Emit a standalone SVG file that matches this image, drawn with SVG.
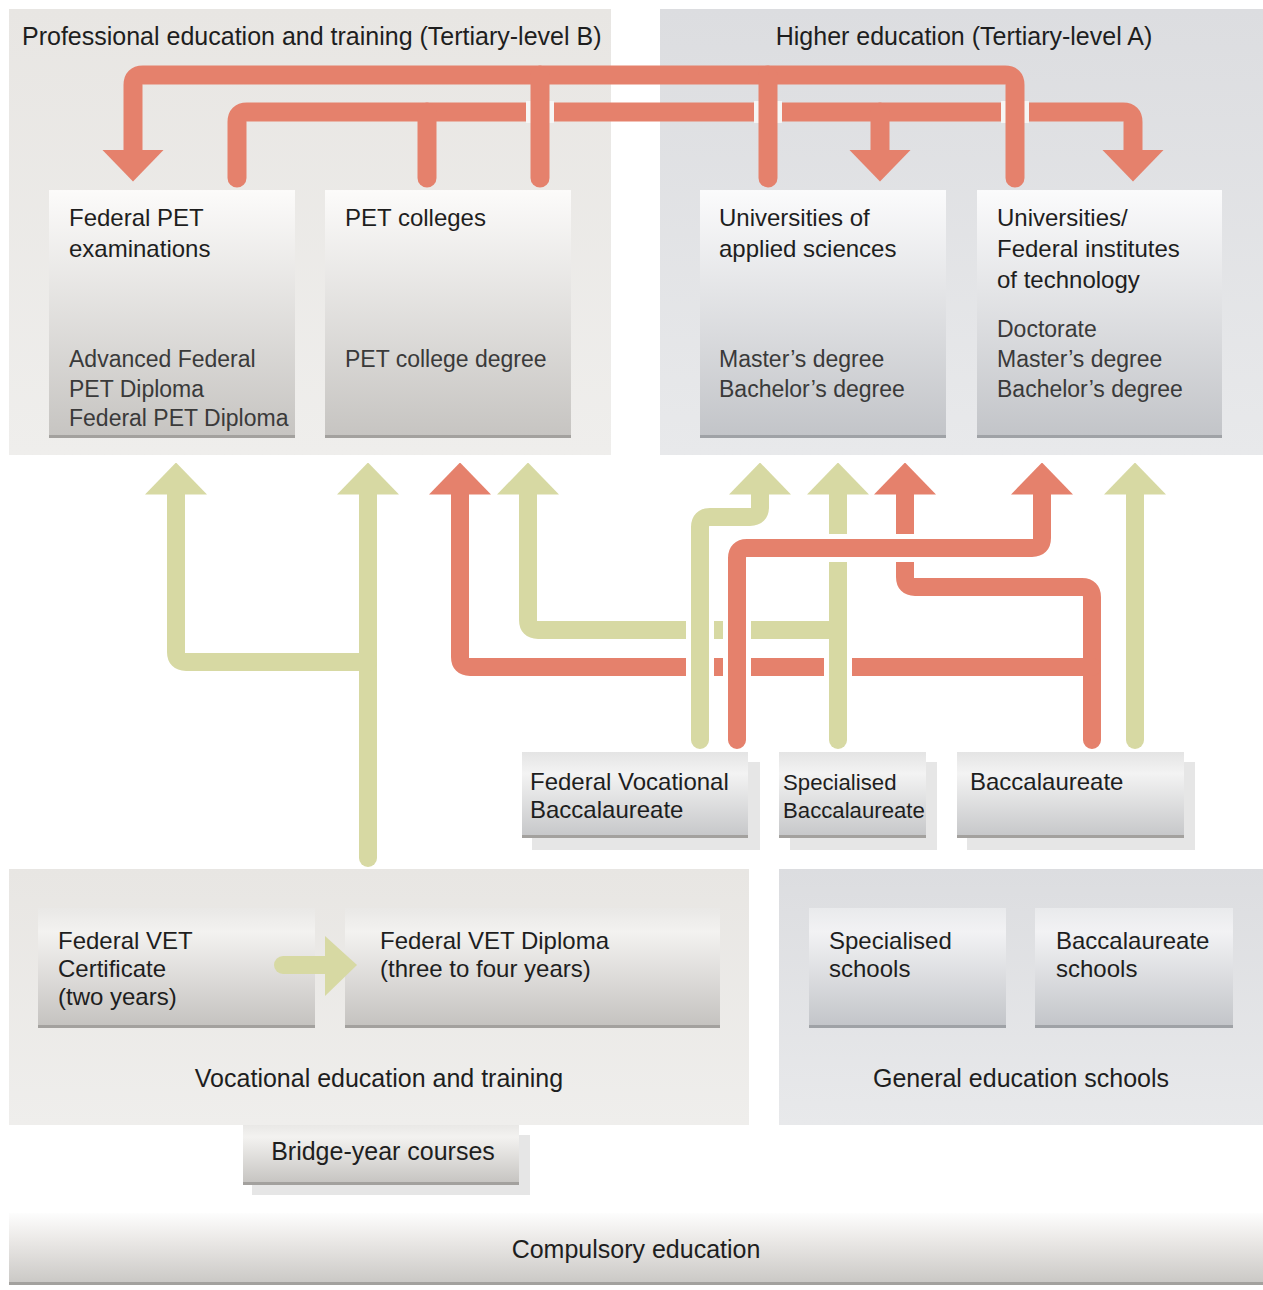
<svg xmlns="http://www.w3.org/2000/svg" width="1263" height="1290" viewBox="0 0 1263 1290">
<style>
text{font-family:"Liberation Sans","DejaVu Sans",Arial,sans-serif;font-size:24px;fill:#1e1e1e;}
.deg{fill:#3a3a3a;font-size:23px;}
.ttl{font-size:25px;}
.sm{font-size:22.2px;}
.mid{text-anchor:middle;}
.r{fill:none;stroke:#e5816c;stroke-width:19;stroke-linecap:round;}
.g{fill:none;stroke:#d7d9a3;stroke-width:18;stroke-linecap:round;}
.rm{fill:none;stroke:#e5816c;stroke-width:18;stroke-linecap:round;}
.gapT{fill:#f6f6f5;}
.gap{fill:#ffffff;}
.edge{fill:#a3a19e;}
.edgeC{fill:#9fa2a6;}
.sh{fill:#e6e6e6;}
</style>
<defs>
<linearGradient id="gWarm" x1="0" y1="0" x2="0" y2="1"><stop offset="0" stop-color="#fcfbfa"/><stop offset="1" stop-color="#c6c4c1"/></linearGradient>
<linearGradient id="gCool" x1="0" y1="0" x2="0" y2="1"><stop offset="0" stop-color="#fbfbfc"/><stop offset="1" stop-color="#c2c4c8"/></linearGradient>
<linearGradient id="gMid" x1="0" y1="0" x2="0" y2="1"><stop offset="0" stop-color="#e4e4e4"/><stop offset="0.25" stop-color="#f3f3f3"/><stop offset="1" stop-color="#c5c6c8"/></linearGradient>
<linearGradient id="gVet" x1="0" y1="0" x2="0" y2="1"><stop offset="0" stop-color="#e9e8e6"/><stop offset="0.2" stop-color="#f3f2f0"/><stop offset="1" stop-color="#c4c2bf"/></linearGradient>
<linearGradient id="gGen" x1="0" y1="0" x2="0" y2="1"><stop offset="0" stop-color="#e9eaec"/><stop offset="0.2" stop-color="#f2f2f4"/><stop offset="1" stop-color="#c2c4c8"/></linearGradient>
<linearGradient id="gComp" x1="0" y1="0" x2="0" y2="1"><stop offset="0" stop-color="#fdfdfd"/><stop offset="0.35" stop-color="#eceae8"/><stop offset="1" stop-color="#c9c7c4"/></linearGradient>
<linearGradient id="pWarm" x1="0" y1="0" x2="0" y2="1"><stop offset="0" stop-color="#e8e6e3"/><stop offset="1" stop-color="#efeeec"/></linearGradient>
<linearGradient id="pCool" x1="0" y1="0" x2="0" y2="1"><stop offset="0" stop-color="#dcdde0"/><stop offset="1" stop-color="#e8e9eb"/></linearGradient>
<marker id="ahR" markerUnits="userSpaceOnUse" markerWidth="32" markerHeight="62" viewBox="0 0 32 62" refX="0.5" refY="31" orient="auto"><path d="M0,0 L32,31 L0,62 Z" fill="#e5816c"/></marker>
<marker id="ahG" markerUnits="userSpaceOnUse" markerWidth="32" markerHeight="62" viewBox="0 0 32 62" refX="0.5" refY="31" orient="auto"><path d="M0,0 L32,31 L0,62 Z" fill="#d7d9a3"/></marker>
</defs>
<rect width="1263" height="1290" fill="#ffffff"/>

<g id="panel-pet">
<rect x="9" y="9" width="602" height="446" fill="url(#pWarm)"/>
<text class="ttl" x="22" y="45">Professional education and training (Tertiary-level B)</text>
</g>
<g id="panel-higher">
<rect x="660" y="9" width="603" height="446" fill="url(#pCool)"/>
<text class="ttl mid" x="964" y="45">Higher education (Tertiary-level A)</text>
</g>
<g id="panel-vet">
<rect x="9" y="869" width="740" height="256" fill="url(#pWarm)"/>
<text class="ttl mid" x="379" y="1087">Vocational education and training</text>
</g>
<g id="panel-general">
<rect x="779" y="869" width="484" height="256" fill="url(#pCool)"/>
<text class="ttl mid" x="1021" y="1087">General education schools</text>
</g>

<g id="node-federal-pet">
<rect x="49" y="190" width="246" height="248" fill="url(#gWarm)"/>
<rect class="edge" x="49" y="435" width="246" height="3"/>
<text x="69" y="226">Federal PET</text>
<text x="69" y="257">examinations</text>
<text class="deg" x="69" y="367">Advanced Federal</text>
<text class="deg" x="69" y="397">PET Diploma</text>
<text class="deg" x="69" y="426">Federal PET Diploma</text>
</g>
<g id="node-pet-colleges">
<rect x="325" y="190" width="246" height="248" fill="url(#gWarm)"/>
<rect class="edge" x="325" y="435" width="246" height="3"/>
<text x="345" y="226">PET colleges</text>
<text class="deg" x="345" y="367">PET college degree</text>
</g>
<g id="node-uas">
<rect x="700" y="190" width="246" height="248" fill="url(#gCool)"/>
<rect class="edgeC" x="700" y="435" width="246" height="3"/>
<text x="719" y="226">Universities of</text>
<text x="719" y="257">applied sciences</text>
<text class="deg" x="719" y="367">Master’s degree</text>
<text class="deg" x="719" y="397">Bachelor’s degree</text>
</g>
<g id="node-universities">
<rect x="977" y="190" width="245" height="248" fill="url(#gCool)"/>
<rect class="edgeC" x="977" y="435" width="245" height="3"/>
<text x="997" y="226">Universities/</text>
<text x="997" y="257">Federal institutes</text>
<text x="997" y="288">of technology</text>
<text class="deg" x="997" y="337">Doctorate</text>
<text class="deg" x="997" y="367">Master’s degree</text>
<text class="deg" x="997" y="397">Bachelor’s degree</text>
</g>

<g id="node-fvb">
<rect class="sh" x="532" y="762" width="228" height="88"/>
<rect x="522" y="752" width="226" height="86" fill="url(#gMid)"/>
<rect class="edge" x="522" y="835" width="226" height="3"/>
<text x="530" y="790">Federal Vocational</text>
<text x="530" y="818">Baccalaureate</text>
</g>
<g id="node-sb">
<rect class="sh" x="790" y="762" width="147" height="88"/>
<rect x="779" y="752" width="147" height="86" fill="url(#gMid)"/>
<rect class="edge" x="779" y="835" width="147" height="3"/>
<text class="sm" x="783" y="790">Specialised</text>
<text class="sm" x="783" y="818">Baccalaureate</text>
</g>
<g id="node-bacc">
<rect class="sh" x="967" y="762" width="228" height="88"/>
<rect x="957" y="752" width="227" height="86" fill="url(#gMid)"/>
<rect class="edge" x="957" y="835" width="227" height="3"/>
<text x="970" y="790">Baccalaureate</text>
</g>

<g id="node-vet-cert">
<rect x="38" y="908" width="277" height="120" fill="url(#gVet)"/>
<rect class="edge" x="38" y="1025" width="277" height="3"/>
<text x="58" y="949">Federal VET</text>
<text x="58" y="977">Certificate</text>
<text x="58" y="1005">(two years)</text>
</g>
<g id="node-vet-diploma">
<rect x="345" y="908" width="375" height="120" fill="url(#gVet)"/>
<rect class="edge" x="345" y="1025" width="375" height="3"/>
<text x="380" y="949">Federal VET Diploma</text>
<text x="380" y="977">(three to four years)</text>
</g>
<g id="node-spec-schools">
<rect x="809" y="908" width="197" height="120" fill="url(#gGen)"/>
<rect class="edgeC" x="809" y="1025" width="197" height="3"/>
<text x="829" y="949">Specialised</text>
<text x="829" y="977">schools</text>
</g>
<g id="node-bacc-schools">
<rect x="1035" y="908" width="198" height="120" fill="url(#gGen)"/>
<rect class="edgeC" x="1035" y="1025" width="198" height="3"/>
<text x="1056" y="949">Baccalaureate</text>
<text x="1056" y="977">schools</text>
</g>

<g id="node-bridge">
<rect class="sh" x="252" y="1135" width="278" height="60"/>
<rect x="243" y="1125" width="276" height="60" fill="url(#gVet)"/>
<rect class="edge" x="243" y="1182" width="276" height="3"/>
<text class="ttl mid" x="383" y="1160">Bridge-year courses</text>
</g>

<g id="node-compulsory">
<rect x="9" y="1213" width="1254" height="72" fill="url(#gComp)"/>
<rect class="edge" x="9" y="1282" width="1254" height="3"/>
<text class="ttl mid" x="636" y="1258">Compulsory education</text>
</g>

<g id="connectors">
<path class="r" d="M237,178 V122 Q237,112 247,112 H1123 Q1133,112 1133,122 V150" marker-end="url(#ahR)"/>
<path class="r" d="M427,178 V112"/>
<path class="r" d="M880,112 V150" marker-end="url(#ahR)"/>
<rect class="gapT" x="526" y="101" width="28" height="22"/>
<rect class="gapT" x="754" y="101" width="28" height="22"/>
<rect class="gapT" x="1001" y="101" width="28" height="22"/>
<path class="r" d="M1015,178 V85 Q1015,75 1005,75 H143 Q133,75 133,85 V150" marker-end="url(#ahR)"/>
<path class="r" d="M540,178 V75"/>
<path class="r" d="M768,178 V75"/>

<path class="g" d="M368,858 V494" marker-end="url(#ahG)"/>
<path class="g" d="M368,662 H186 Q176,662 176,652 V494" marker-end="url(#ahG)"/>
<path class="rm" d="M1092,740 V597 Q1092,587 1082,587 H915 Q905,587 905,577 V494" marker-end="url(#ahR)"/>
<path class="rm" d="M1092,667 H470 Q460,667 460,657 V494" marker-end="url(#ahR)"/>
<path class="g" d="M838,630 H538 Q528,630 528,620 V494" marker-end="url(#ahG)"/>
<rect class="gap" x="686" y="620" width="28" height="20"/>
<rect class="gap" x="686" y="657" width="28" height="20"/>
<rect class="gap" x="824" y="657" width="28" height="20"/>
<path class="g" d="M700,740 V527 Q700,517 710,517 H750 Q760,517 760,507 V494" marker-end="url(#ahG)"/>
<path class="g" d="M838,740 V494" marker-end="url(#ahG)"/>
<rect class="gap" x="723" y="620" width="28" height="20"/>
<rect class="gap" x="723" y="657" width="28" height="20"/>
<rect class="gap" x="828" y="534" width="20" height="28"/>
<rect class="gap" x="895" y="534" width="20" height="28"/>
<path class="rm" d="M737,740 V558 Q737,548 747,548 H1032 Q1042,548 1042,538 V494" marker-end="url(#ahR)"/>
<path class="g" d="M1135,740 V494" marker-end="url(#ahG)"/>

<path d="M283,965 H325" fill="none" stroke="#d7d9a3" stroke-width="18" stroke-linecap="round"/>
<path d="M325,936 L357,965 L325,996 Z" fill="#d7d9a3"/>
</g>
</svg>
